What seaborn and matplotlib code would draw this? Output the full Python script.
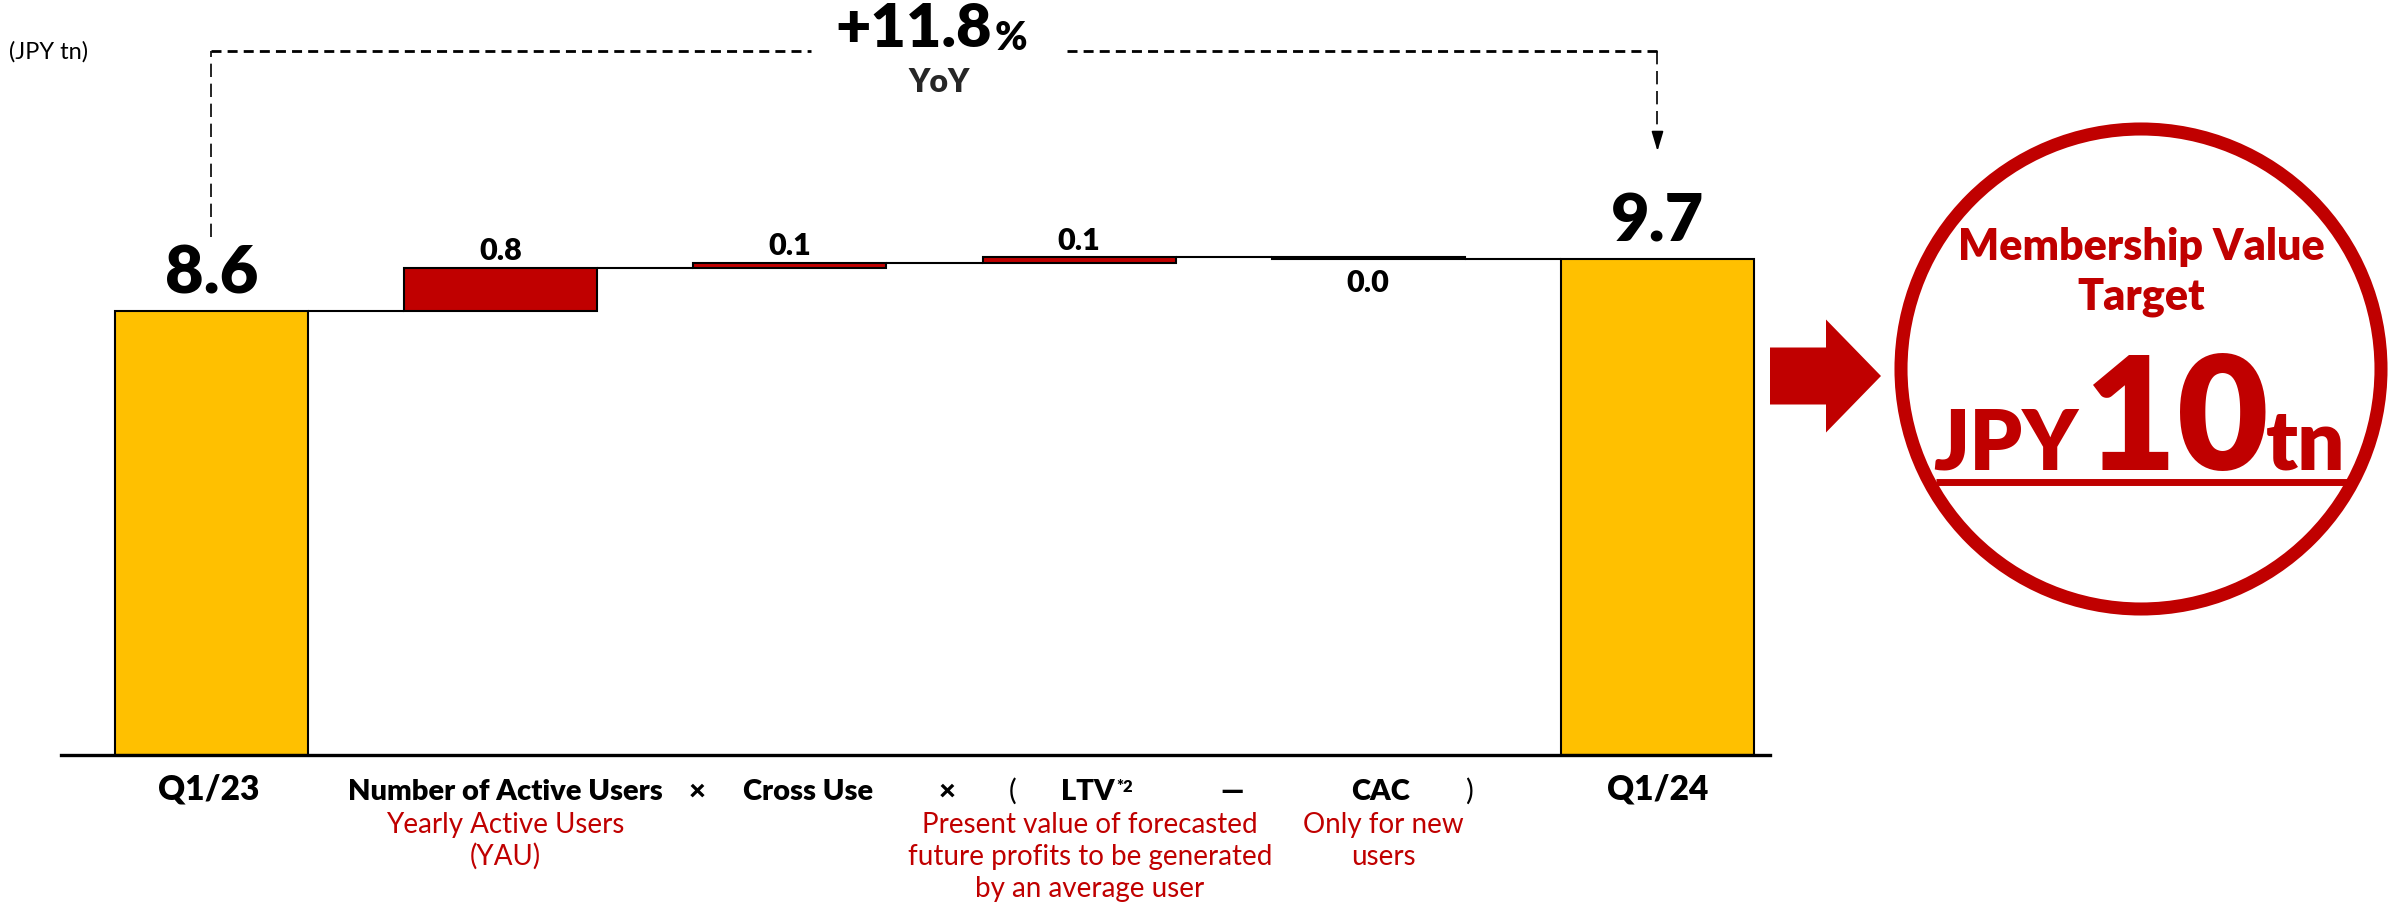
import numpy as np
import matplotlib
matplotlib.use("Agg")
import matplotlib.pyplot as plt
import matplotlib.patches as mpatches
import seaborn as sns

# Membership value bridge (JPY trillion): Q1/23 -> Q1/24
categories = ["Q1/23", "Number of Active Users", "Cross Use", "LTV", "CAC", "Q1/24"]
start_value = 8.64
driver_changes = [0.84, 0.10, 0.11, -0.03]
driver_notes = [
    ["Yearly Active Users", "(YAU)"],
    [],
    ["Present value of forecasted", "future profits to be generated", "by an average user"],
    ["Only for new", "users"],
]
target_value = 10

YELLOW = "#FFC000"
RED = "#C00000"
HEAVY = "heavy"

sns.set_theme(style="white")
plt.rcParams["font.family"] = ["Lato", "DejaVu Sans"]

# ---- waterfall geometry from the values ----
levels = start_value + np.cumsum(driver_changes)
end_value = levels[-1]
heights = [start_value] + list(driver_changes) + [end_value]
bottoms = [0.0, start_value] + list(levels[:-1]) + [0.0]
bar_colors = [YELLOW] + [RED] * len(driver_changes) + [YELLOW]

W, H = 2392, 903
fig = plt.figure(figsize=(W / 100, H / 100), dpi=100)
ax = fig.add_axes([61 / W, (H - 756) / H, (1770 - 61) / W, 756 / H])
ov = fig.add_axes([0, 0, 1, 1], zorder=3)
ov.set_xlim(0, W)
ov.set_ylim(H, 0)
ov.axis("off")

bar_w = 0.667
sns.barplot(x=categories, y=heights, order=categories, bottom=bottoms, width=bar_w,
            color=YELLOW, saturation=1, edgecolor="black", linewidth=1.5,
            errorbar=None, ax=ax, zorder=2)
for patch, c in zip(ax.patches, bar_colors):
    patch.set_facecolor(c)

ax.set_xlim(-0.52, 5.389)
ax.set_ylim(0, 14.71)
ax.set_xlabel("")
ax.set_ylabel("")
ax.set_xticks([])
ax.set_yticks([])
for s in ["top", "left", "right"]:
    ax.spines[s].set_visible(False)
ax.spines["bottom"].set_linewidth(2.4)
ax.spines["bottom"].set_color("black")
ax.patch.set_alpha(0)

# connectors between consecutive bars
for i in range(len(categories) - 1):
    lvl = bottoms[i] + heights[i]
    ax.plot([i + bar_w / 2, i + 1 - bar_w / 2], [lvl, lvl], color="black", lw=1.5, zorder=1)

# value labels
for i, h in enumerate(heights):
    top = bottoms[i] + max(h, 0)
    if i in (0, len(heights) - 1):
        ax.annotate(f"{h:.1f}", (i, top), xytext=(0, 13), textcoords="offset points",
                    ha="center", va="baseline", fontsize=48, fontweight=HEAVY, color="black")
    elif h >= 0:
        ax.annotate(f"{abs(h):.1f}", (i, top), xytext=(0, 6), textcoords="offset points",
                    ha="center", va="baseline", fontsize=22, fontweight=HEAVY, color="black")
    else:
        ax.annotate(f"{abs(h):.1f}", (i, bottoms[i] + h), xytext=(0, -7), textcoords="offset points",
                    ha="center", va="top", fontsize=22, fontweight=HEAVY, color="black")

# YoY bracket
n_last = len(categories) - 1
bracket_y = 13.70
ax.plot([0, 0], [start_value + 1.44, bracket_y], color="black", lw=1.2,
        dashes=(8, 4), zorder=1)
ax.plot([0, 2.073], [bracket_y, bracket_y], color="black", lw=2.0, dashes=(3.6, 2.2))
ax.plot([2.958, n_last], [bracket_y, bracket_y], color="black", lw=2.0, dashes=(3.6, 2.2))
tip = end_value + 2.09
ax.plot([n_last, n_last], [bracket_y, tip + 0.2], color="black", lw=1.2, dashes=(8, 4))
ax.annotate("", xy=(n_last, tip), xytext=(n_last, tip + 0.3),
            arrowprops=dict(arrowstyle="-|>,head_length=1.0,head_width=0.3",
                            color="black", lw=1.2, shrinkA=0, shrinkB=0))

yoy = (end_value / start_value - 1) * 100
t_yoy = ov.text(992, 47, f"+{yoy:.1f}", ha="right", va="baseline",
                fontsize=44, fontweight=HEAVY, color="black")
ov.annotate("%", xy=(1, 0), xycoords=t_yoy, xytext=(2, 0), textcoords="offset points",
            ha="left", va="bottom", fontsize=28, fontweight=HEAVY, color="black")
ov.text(939, 92, "YoY", ha="center", va="baseline", fontsize=23, fontweight=HEAVY)
ov.text(9, 52, "(JPY tn)", ha="left", va="center", fontsize=17, color="black")

# category labels
label_x = [209, 505, 808, 1088, 1381, 1658]
for i, (name, lx) in enumerate(zip(categories, label_x)):
    size = 24 if i in (0, n_last) else 21
    t = ov.text(lx, 800, name, ha="center", va="baseline", fontsize=size,
                fontweight=HEAVY, color="black")
    if name == "LTV":
        ov.annotate("*2", xy=(1, 1), xycoords=t, xytext=(1, 0), textcoords="offset points",
                    ha="left", va="top", fontsize=12, fontweight=HEAVY, color="black")

for sym, sx, wt in [("\u00d7", 697, HEAVY), ("\u00d7", 947, HEAVY), ("(", 1013, "normal"),
                    ("\u2014", 1232, HEAVY), (")", 1469, "normal")]:
    ov.text(sx, 800, sym, ha="center", va="baseline", fontsize=21, fontweight=wt, color="black")

note_x = [505, 808, 1090, 1383]
for notes, nx in zip(driver_notes, note_x):
    for k, line in enumerate(notes):
        ov.text(nx, 833 + 32 * k, line, ha="center", va="baseline", fontsize=20, color=RED)

# target badge
ov.add_patch(mpatches.FancyArrow(1770, 377, 111, 0, width=57, head_width=113,
                                 head_length=55, length_includes_head=True,
                                 color=RED, lw=0))
ov.add_patch(mpatches.Circle((2141, 370), 240, fill=False, edgecolor=RED, lw=9.4))
ov.text(2141, 247, "Membership Value", ha="center", va="center", fontsize=31,
        fontweight=HEAVY, color=RED)
ov.text(2141, 297, "Target", ha="center", va="center", fontsize=31,
        fontweight=HEAVY, color=RED)
ov.text(2078, 470, "JPY", ha="right", va="baseline", fontsize=60, fontweight=HEAVY, color=RED)
ov.text(2177, 470, f"{target_value}", ha="center", va="baseline", fontsize=114,
        fontweight=HEAVY, color=RED)
ov.text(2266, 470, "tn", ha="left", va="baseline", fontsize=60, fontweight=HEAVY, color=RED)
ov.plot([1936, 2347], [483, 483], color=RED, lw=5, solid_capstyle="butt")

fig.savefig("out.png", dpi=100)
